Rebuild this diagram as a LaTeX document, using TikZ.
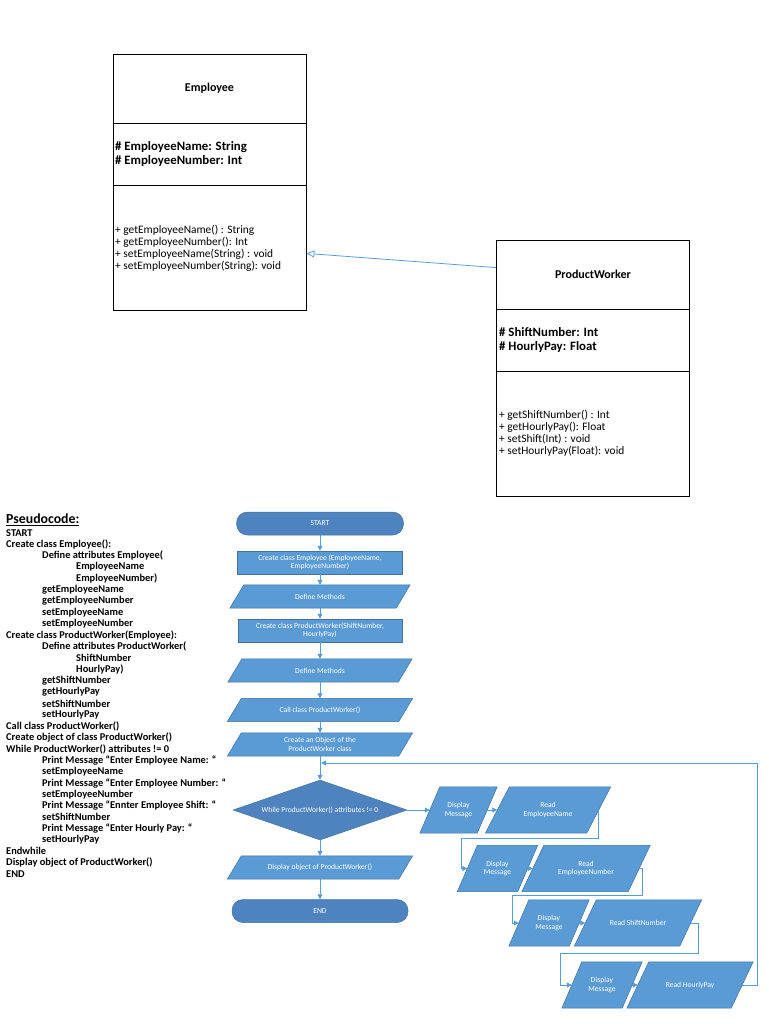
\documentclass[tikz,border=0pt]{standalone}
\usepackage{fontspec}
\setmainfont{Carlito}
\usetikzlibrary{shapes.geometric,arrows.meta,backgrounds}
\definecolor{shapeblue}{HTML}{5B9BD5}
\definecolor{darkblue}{HTML}{4F83BF}
\definecolor{edgeblue}{HTML}{41719C}
\definecolor{lineblue}{HTML}{5B9BD5}
\begin{document}
\begin{tikzpicture}[x=1pt,y=-1pt,
  umlbox/.style={draw=black, line width=0.8pt, minimum width=193pt, minimum height=256pt, inner sep=0pt},
  umltitle/.style={font=\bfseries\fontsize{12}{14}\selectfont, inner sep=0pt},
  umlattr/.style={font=\bfseries\fontsize{12.8}{14}\selectfont, anchor=west, inner sep=0pt},
  umlmeth/.style={font=\fontsize{11.4}{12}\selectfont, anchor=west, inner sep=0pt},
  pcline/.style={font=\bfseries\fontsize{10.4}{11}\selectfont, anchor=west, inner sep=0pt},
  fctext/.style={text=white, font=\fontsize{7.6}{8.6}\selectfont, align=center, inner sep=1pt},
  procbox/.style={fctext, rectangle, fill=shapeblue, draw=edgeblue, line width=0.5pt, minimum width=#1, minimum height=23pt},
  iobox/.style={fctext, rectangle, minimum width=#1, minimum height=23pt},
  bigio/.style={fctext, rectangle, minimum width=#1, minimum height=46pt},
  term/.style={fctext, fill=darkblue, draw=edgeblue, line width=0.5pt, rounded corners=11pt, minimum width=#1, minimum height=23pt},
  decision/.style={fctext, diamond, aspect=2.9, fill=darkblue, draw=edgeblue, line width=0.5pt, minimum width=174pt, minimum height=60pt, inner sep=0pt},
  parashape/.style={fill=shapeblue, draw=edgeblue, line width=0.5pt},
  flow/.style={draw=lineblue, line width=0.8pt, -{Triangle[length=5pt,width=5pt]}},
  flowline/.style={draw=lineblue, line width=0.8pt}
]
\useasboundingbox (0,0) rectangle (768,1024);

% ---------------- UML ----------------
\node[umlbox] (emp) at (209.5,182) {};
\draw[line width=0.8pt] ([yshift=-70pt]emp.north west) -- ([yshift=-70pt]emp.north east);
\draw[line width=0.8pt] ([yshift=-132pt]emp.north west) -- ([yshift=-132pt]emp.north east);
\node[umltitle] (empt) at (209.5,88) {Employee};
\node[umlattr] (ea1) at (115,147) {\# EmployeeName: String};
\node[umlattr] (ea2) at (115,161) {\# EmployeeNumber: Int};
\node[umlmeth] (em1) at (115,230) {+ getEmployeeName() : String};
\node[umlmeth] (em2) at (115,242) {+ getEmployeeNumber(): Int};
\node[umlmeth] (em3) at (115,254) {+ setEmployeeName(String) : void};
\node[umlmeth] (em4) at (115,266) {+ setEmployeeNumber(String): void};

\node[umlbox] (pw) at (593,368) {};
\draw[line width=0.8pt] ([yshift=-70pt]pw.north west) -- ([yshift=-70pt]pw.north east);
\draw[line width=0.8pt] ([yshift=-132pt]pw.north west) -- ([yshift=-132pt]pw.north east);
\node[umltitle] (pwt) at (593,274) {ProductWorker};
\node[umlattr] (pa1) at (499,332) {\# ShiftNumber: Int};
\node[umlattr] (pa2) at (499,347) {\# HourlyPay: Float};
\node[umlmeth] (pm1) at (499,415) {+ getShiftNumber() : Int};
\node[umlmeth] (pm2) at (499,427) {+ getHourlyPay(): Float};
\node[umlmeth] (pm3) at (499,439) {+ setShift(Int) : void};
\node[umlmeth] (pm4) at (499,451) {+ setHourlyPay(Float): void};

\draw[draw=lineblue, line width=0.8pt, -{Triangle[open, length=8pt, width=7pt]}]
  ([yshift=-28pt]pw.north west) -- ([yshift=57pt]emp.south east);

% ---------------- Pseudocode ----------------
\node[anchor=west, inner sep=0pt, font=\bfseries\fontsize{13.8}{15}\selectfont] (pstitle) at (6,520) {\underline{Pseudocode:}};
\foreach \px/\pt [count=\i from 0] in {
  6/{START},
  6/{Create class Employee():},
  42/{Define attributes Employee(},
  76/{EmployeeName},
  76/{EmployeeNumber)},
  42/{getEmployeeName},
  42/{getEmployeeNumber},
  42/{setEmployeeName},
  42/{setEmployeeNumber},
  6/{Create class ProductWorker(Employee):},
  42/{Define attributes ProductWorker(},
  76/{ShiftNumber},
  76/{HourlyPay)},
  42/{getShiftNumber},
  42/{getHourlyPay},
  42/{setShiftNumber},
  42/{setHourlyPay},
  6/{Call class ProductWorker()},
  6/{Create object of class ProductWorker()},
  6/{While ProductWorker() attributes != 0},
  42/{Print Message “Enter Employee Name: “},
  42/{setEmployeeName},
  42/{Print Message “Enter Employee Number: “},
  42/{setEmployeeNumber},
  42/{Print Message “Ennter Employee Shift: “},
  42/{setShiftNumber},
  42/{Print Message “Enter Hourly Pay: “},
  42/{setHourlyPay},
  6/{Endwhile},
  6/{Display object of ProductWorker()},
  6/{END}}
{
  \node[pcline] (ps\i) at (\px,{533+11.37*\i}) {\pt};
}

% ---------------- Flowchart main column ----------------
\node[term=167pt] (start) at (320,523.5) {START};
\node[procbox=165pt] (b1) at (320,562.5) {Create class Employee (EmployeeName,\\EmployeeNumber)};
\node[iobox=166pt] (dma) at (320,596.5) {Define Methods};
\node[procbox=164pt] (b3) at (320,630.5) {Create class ProductWorker(ShiftNumber,\\HourlyPay)};
\node[iobox=170pt] (dmb) at (320,670.5) {Define Methods};
\node[iobox=171pt] (call) at (320,710) {Call class ProductWorker()};
\node[iobox=171pt] (obj) at (320,744.5) {Create an Object of the\\ProductWorker class};
\node[decision] (dec) at (320,810) {While ProductWorker() attributes != 0};
\node[iobox=171pt] (disp) at (320,867.5) {Display object of ProductWorker()};
\node[term=176pt] (end) at (320,911) {END};

% ---------------- Flowchart loop body ----------------
\node[bigio=57pt] (dm1) at (458.5,810) {Display\\Message};
\node[bigio=101pt] (re1) at (548,810) {Read\\EmployeeName};
\node[bigio=60pt] (dm2) at (497.5,868.5) {Display\\Message};
\node[bigio=106pt] (re2) at (586,868.5) {Read\\EmployeeNumber};
\node[bigio=60pt] (dm3) at (549,923) {Display\\Message};
\node[bigio=105pt] (rs3) at (638,923) {Read ShiftNumber};
\node[bigio=60pt] (dm4) at (602,985) {Display\\Message};
\node[bigio=104pt] (rh4) at (690,985) {Read HourlyPay};

\begin{scope}[on background layer]
\foreach \n/\s in {dma/7,dmb/7,call/7,obj/7,disp/7,dm1/10,re1/12,dm2/10,re2/11,dm3/10,rs3/11,dm4/10,rh4/11}
{
  \filldraw[parashape] ([xshift=\s pt]\n.north west) -- ([xshift=\s pt]\n.north east)
     -- ([xshift=-\s pt]\n.south east) -- ([xshift=-\s pt]\n.south west) -- cycle;
}
\end{scope}

% ---------------- Connectors ----------------
\coordinate (join) at (320,763);
\coordinate (k1) at (461,838);
\coordinate (k2) at (512,895);
\coordinate (k3) at (560,953);
\coordinate (k4) at (757,763);

\draw[flow] (start) -- (b1);
\draw[flow] (b1) -- (dma);
\draw[flow] (dma) -- (b3);
\draw[flow] (b3) -- (dmb);
\draw[flow] (dmb) -- (call);
\draw[flow] (call) -- (obj);
\draw[flow] (obj) -- (dec);
\draw[flow] (dec) -- (disp);
\draw[flow] (disp) -- (end);

\draw[flow] (dec.east) -- (dm1.west);
\draw[flow] (dm1.east) -- (re1.west);
\draw[flow] (re1.east) |- (k1) |- (dm2.west);
\draw[flow] (dm2.east) -- (re2.west);
\draw[flow] (re2.east) -- ++(3,0) |- (k2) |- (dm3.west);
\draw[flow] (dm3.east) -- (rs3.west);
\draw[flow] (rs3.east) -- ++(8,0) |- (k3) |- (dm4.west);
\draw[flow] (dm4.east) -- (rh4.west);
\draw[flow] (rh4.east) -| (k4) -- ([xshift=1pt]join);
\end{tikzpicture}
\end{document}
